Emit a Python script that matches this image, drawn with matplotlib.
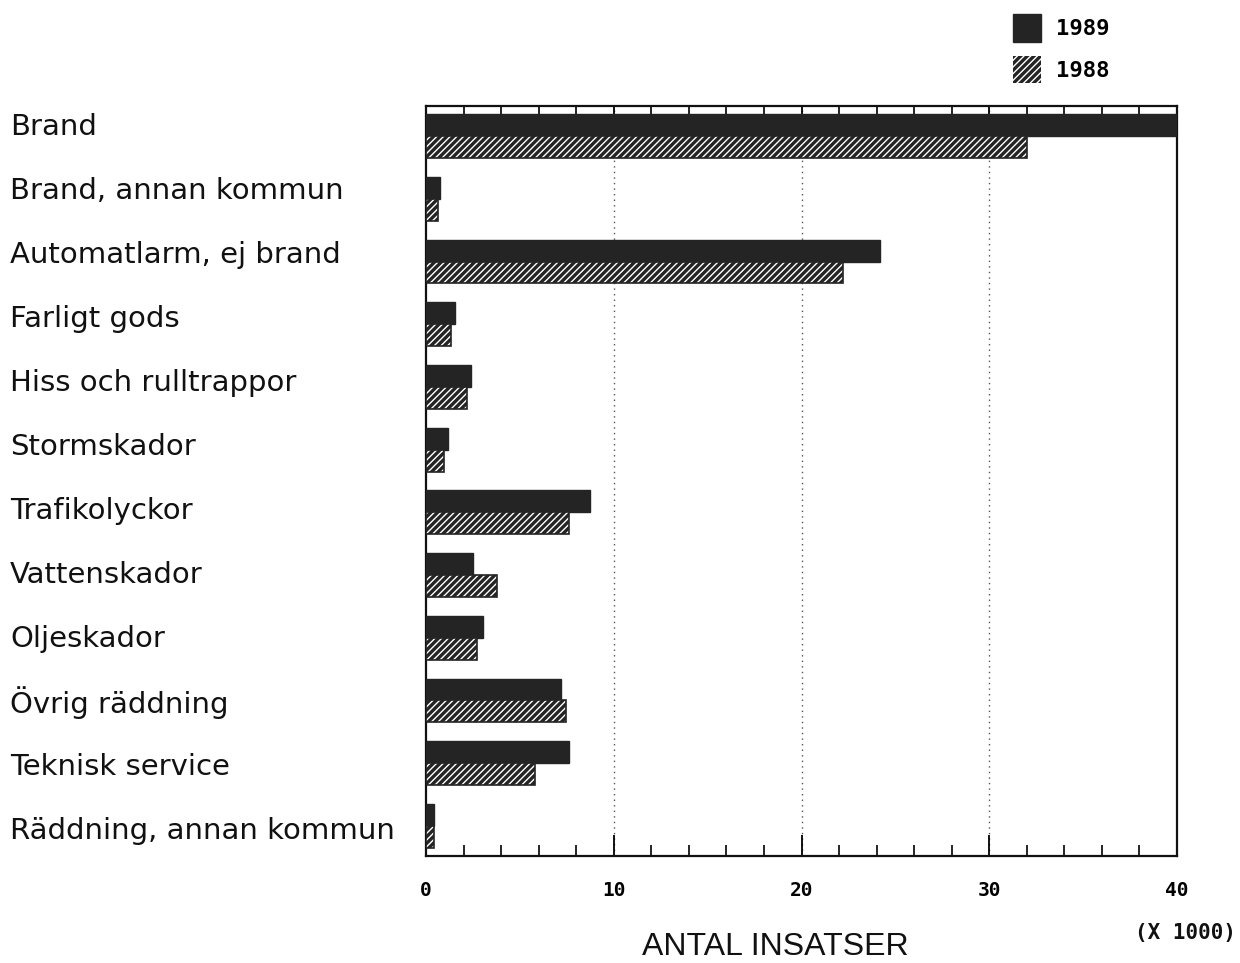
import matplotlib
matplotlib.use('Agg')
import matplotlib.pyplot as plt
import numpy as np

categories = ['Brand', 'Brand, annan kommun', 'Automatlarm, ej brand', 'Farligt gods',
              'Hiss och rulltrappor', 'Stormskador', 'Trafikolyckor', 'Vattenskador',
              'Oljeskador', 'Övrig räddning', 'Teknisk service', 'Räddning, annan kommun']
v1989 = [40.0, 0.75, 24.2, 1.55, 2.4, 1.15, 8.75, 2.5, 3.05, 7.2, 7.6, 0.45]
v1988 = [32.0, 0.65, 22.2, 1.35, 2.2, 0.95, 7.6, 3.8, 2.7, 7.45, 5.8, 0.4]
xticks = [0, 10, 20, 30, 40]
xticklabels = ['0', '10', '20', '30', '40']

dark = '#242424'
plt.rcParams['hatch.color'] = 'white'
plt.rcParams['hatch.linewidth'] = 1.0

fig = plt.figure(figsize=(12.4, 9.63), dpi=100)
# axes box: x 426..1177 px, y 106..856 px
ax = fig.add_axes([426 / 1240, 1 - 856 / 963, 751 / 1240, 750 / 963])

y = np.arange(len(categories))
h = 0.35
b1 = ax.barh(y - h / 2, v1989, height=h, color=dark, edgecolor=dark, linewidth=1, label='1989', zorder=3)
b2 = ax.barh(y + h / 2, v1988, height=h, color=dark, edgecolor='white', hatch='/////',
             linewidth=0, label='1988', zorder=3)
ax.barh(y + h / 2, v1988, height=h, fill=False, edgecolor=dark, linewidth=1.2, zorder=4)

ax.set_xlim(0, 40)
ax.set_ylim(len(categories) - 0.52, -0.48)
ax.set_yticks([])
ax.set_xticks(xticks)
ax.set_xticklabels(xticklabels, family='DejaVu Sans Mono', fontweight='bold', fontsize=14)
ax.set_xticks(np.arange(0, 41, 2), minor=True)
ax.tick_params(axis='x', which='major', direction='in', top=True, bottom=True, length=15, width=1.3, pad=18)
ax.tick_params(axis='x', which='minor', direction='in', top=True, bottom=True, length=8, width=1.2)
for s in ax.spines.values():
    s.set_linewidth(1.6)
    s.set_color('#111111')
for xv in [10, 20, 30]:
    ax.axvline(xv, color='#555555', linestyle=(0, (1, 3)), linewidth=1, zorder=1)

# category labels, left aligned at the page edge
for i, name in enumerate(categories):
    fig.text(10 / 1240, 1 - (127 + 64 * i) / 963, name, ha='left', va='center',
             family='DejaVu Sans', fontsize=21, color='#111111')

fig.text(775 / 1240, 1 - 947 / 963, 'ANTAL INSATSER', ha='center', va='center',
         family='Liberation Sans', fontsize=23, color='#111111')
fig.text(1236 / 1240, 1 - 933 / 963, '(X 1000)', ha='right', va='center',
         family='DejaVu Sans Mono', fontweight='bold', fontsize=15, color='#111111')

leg = fig.legend(handles=[b1, b2], labels=['1989', '1988'], loc='upper left',
                 bbox_to_anchor=(993 / 1240, 1 + 6 / 963), frameon=False,
                 prop={'family': 'DejaVu Sans Mono', 'weight': 'bold', 'size': 16},
                 handlelength=1.25, handleheight=1.55, labelspacing=0.62, handletextpad=0.7)

fig.savefig('out.png', dpi=100, facecolor='white')
